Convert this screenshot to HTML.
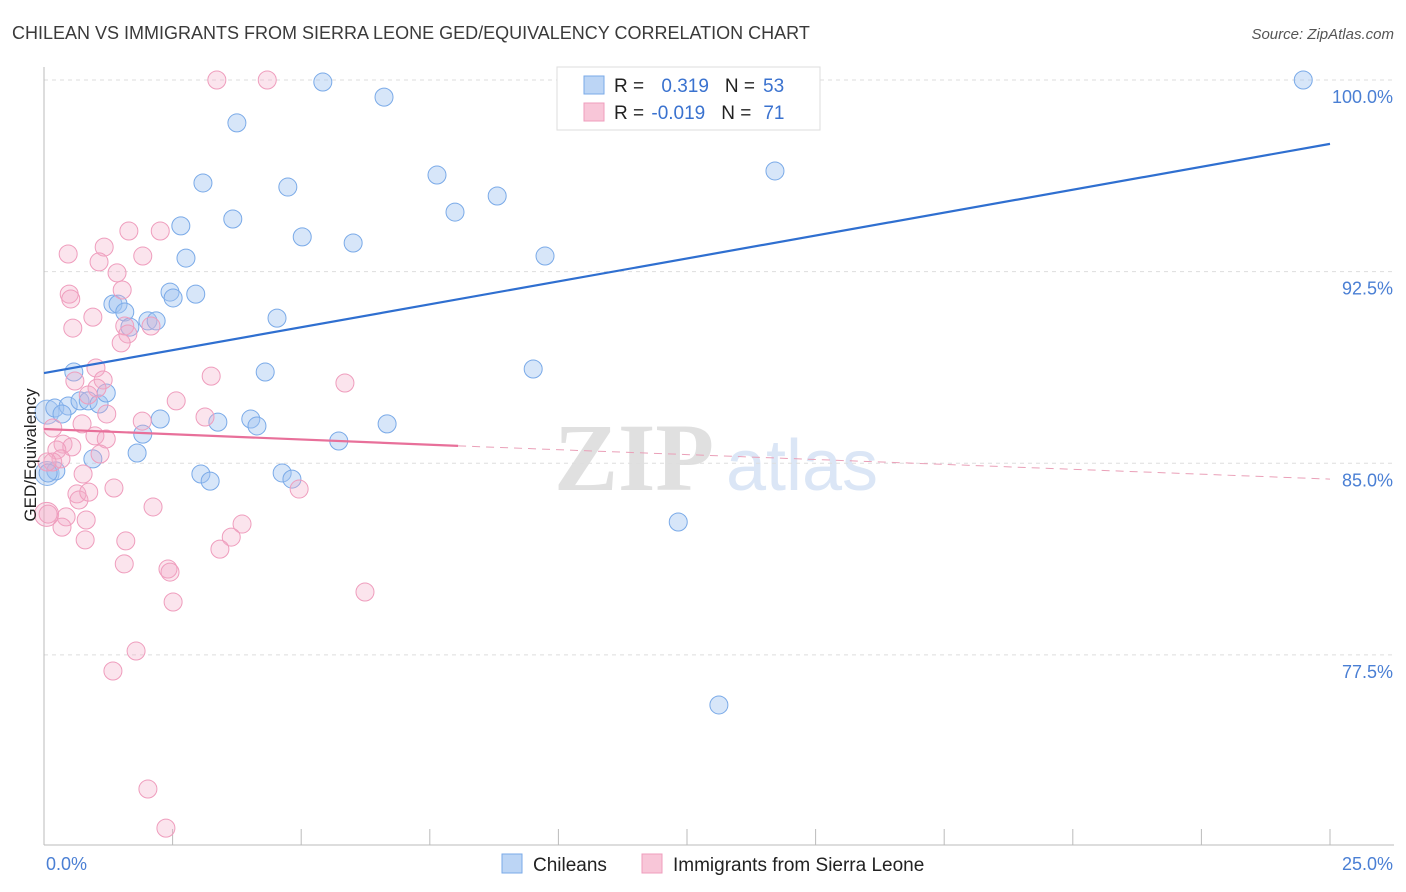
<!DOCTYPE html>
<html><head><meta charset="utf-8"><style>
body{margin:0;background:#fff;font-family:"Liberation Sans",sans-serif;}
svg{display:block}
</style></head><body>
<svg id="chart" width="1406" height="892" xmlns="http://www.w3.org/2000/svg">
<text x="12" y="39" font-size="18" fill="#3a3a3a">CHILEAN VS IMMIGRANTS FROM SIERRA LEONE GED/EQUIVALENCY CORRELATION CHART</text>
<text x="1394" y="39" font-size="15" fill="#555" font-style="italic" text-anchor="end">Source: ZipAtlas.com</text>
<g>
<text x="634" y="490" font-size="96" fill="#e0e0e0" font-family="Liberation Serif" text-anchor="middle" font-weight="bold">ZIP</text>
<text x="802" y="490" font-size="72" fill="#dbe6f6" text-anchor="middle">atlas</text>
</g>
<g id="grid"></g>
<g id="axes"></g>
<g id="points"></g>
<g id="lines"></g>
<text x="36" y="455" font-size="17" fill="#222" text-anchor="middle" transform="rotate(-90 36 455)">GED/Equivalency</text>
<text x="46" y="870" font-size="18" fill="#4a7fd4">0.0%</text>
<text x="1393" y="870" font-size="18" fill="#4a7fd4" text-anchor="end">25.0%</text>
<g>
<rect x="557" y="67" width="263" height="63" fill="#fff" stroke="#ddd"/>
<rect x="584" y="76" width="20" height="18" fill="#bcd5f5" stroke="#7aaae8"/>
<rect x="584" y="103" width="20" height="18" fill="#f8c6d8" stroke="#ef9dbd"/>
<text x="614" y="92" font-size="19" fill="#222">R = <tspan fill="#3a72cf" dx="12">0.319</tspan><tspan fill="#222" dx="16">N =</tspan><tspan fill="#3a72cf" dx="8">53</tspan></text>
<text x="614" y="119" font-size="19" fill="#222">R = <tspan fill="#3a72cf" dx="2">-0.019</tspan><tspan fill="#222" dx="16">N =</tspan><tspan fill="#3a72cf" dx="12">71</tspan></text>
</g>
<g>
<rect x="502" y="854" width="20" height="19" fill="#bcd5f5" stroke="#7aaae8"/>
<text x="533" y="871" font-size="19" fill="#222">Chileans</text>
<rect x="642" y="854" width="20" height="19" fill="#f8c6d8" stroke="#ef9dbd"/>
<text x="673" y="871" font-size="19" fill="#222">Immigrants from Sierra Leone</text>
</g>
</svg>
<script>
const yTicks=[100,92.5,85,77.5];
const yTickLabels=["100.0%","92.5%","85.0%","77.5%"];
const xTicks=[0,2.5,5,7.5,10,12.5,15,17.5,20,22.5,25];
const blueX=[5.42,6.61,3.75,14.07,24.48,3.09,4.74,7.64,8.81,7.99,14.21,3.67,2.66,5.02,6.01,9.74,2.76,2.45,2.95,2.51,1.34,1.44,1.57,2.02,2.18,1.67,4.53,4.30,9.51,0.58,0.21,0.47,0.70,0.86,1.07,1.21,0.35,3.38,4.02,4.14,6.67,2.26,1.92,5.73,1.81,0.95,3.05,3.23,4.63,4.82,0.23,0.08,12.33,13.12];
const blueY=[99.92,99.33,98.32,100,100,95.97,95.81,96.28,95.46,94.83,96.44,94.56,94.29,93.86,93.62,93.11,93.03,91.70,91.62,91.47,91.23,91.23,90.92,90.57,90.57,90.33,90.68,88.57,88.69,88.57,87.16,87.24,87.44,87.44,87.32,87.75,86.93,86.61,86.73,86.46,86.54,86.73,86.14,85.87,85.40,85.17,84.58,84.30,84.62,84.38,84.70,84.62,82.70,75.54];
const pinkX=[3.36,4.34,0.47,1.17,1.65,2.26,1.92,1.07,1.42,0.49,0.52,1.52,0.95,0.56,1.57,2.08,1.63,1.50,1.01,0.60,1.15,3.25,5.85,1.03,0.86,2.57,1.22,3.13,1.91,0.74,0.17,0.99,1.21,0.37,0.54,1.09,0.25,0.33,0.17,0.76,0.64,0.68,0.87,1.36,4.96,2.12,0.43,0.82,0.35,3.85,3.64,1.59,0.80,3.42,1.56,2.41,2.45,2.51,6.24,1.79,1.34,2.02,2.37,0.08,0.06];
const pinkY=[100,100,93.19,93.46,94.09,94.09,93.11,92.88,92.45,91.62,91.43,91.78,90.72,90.29,90.37,90.37,90.06,89.71,88.73,88.22,88.26,88.41,88.14,87.94,87.67,87.44,86.93,86.81,86.65,86.54,86.38,86.07,85.95,85.75,85.64,85.36,85.52,85.17,85.05,84.58,83.80,83.56,83.87,84.03,83.99,83.29,82.90,82.78,82.50,82.62,82.11,81.96,82.00,81.64,81.06,80.86,80.74,79.57,79.96,77.65,76.87,72.25,70.72,83.01,85.05];
const bigBlueX=[0.06,0.06];
const bigBlueY=[87.0,84.6];
const bigPinkX=[0.05];
const bigPinkY=[83.0];
const blueTrend=[[0,88.53],[25,97.5]];
const pinkTrend=[[0,86.34],[8.05,85.68],[25,84.38]];
const X=v=>44+v/25*1286;
const Y=v=>80+(100-v)*25.55;
const NS='http://www.w3.org/2000/svg';
function mk(tag,attrs,parent){const e=document.createElementNS(NS,tag);for(const k in attrs)e.setAttribute(k,attrs[k]);document.getElementById(parent).appendChild(e);return e;}
yTicks.forEach((t,i)=>{
 const l=mk('line',{x1:44,x2:1394,y1:Y(t),y2:Y(t),stroke:'#ddd','stroke-dasharray':'4,4'},'grid');
 
 
 const tx=mk('text',{x:1393,y:Y(t)+23,'font-size':18,fill:'#4a7fd4','text-anchor':'end'},'grid');
 tx.textContent=yTickLabels[i];
 
 
});
const ya=mk('line',{x1:44,x2:44,y1:67,y2:845,stroke:'#bbb'},'axes');


const xa=mk('line',{x1:44,x2:1394,y1:845,y2:845,stroke:'#bbb'},'axes');


xTicks.forEach(t=>{
 const l=mk('line',{x1:X(t),x2:X(t),y1:829,y2:845,stroke:'#bbb'},'axes');
 
 
});
bigBlueX.forEach((v,i)=>{
 const c=mk('circle',{cx:X(v),cy:Y(bigBlueY[i]),r:12,fill:'rgba(160,196,240,0.4)',stroke:'#8ab4ea','stroke-width':1},'points');
 
 
});
bigPinkX.forEach((v,i)=>{
 const c=mk('circle',{cx:X(v),cy:Y(bigPinkY[i]),r:12,fill:'rgba(244,170,200,0.35)',stroke:'#ef9dbd','stroke-width':1},'points');
 
 
});
blueX.forEach((v,i)=>{
 const c=mk('circle',{cx:X(v),cy:Y(blueY[i]),r:9,fill:'rgba(160,196,240,0.42)',stroke:'#7aaae8','stroke-width':1},'points');
 
 
});
pinkX.forEach((v,i)=>{
 const c=mk('circle',{cx:X(v),cy:Y(pinkY[i]),r:9,fill:'rgba(244,170,200,0.32)',stroke:'#ef9dbd','stroke-width':1},'points');
 
 
});
const bl=mk('line',{x1:X(blueTrend[0][0]),y1:Y(blueTrend[0][1]),x2:X(blueTrend[1][0]),y2:Y(blueTrend[1][1]),stroke:'#2f6fd0','stroke-width':2.2},'lines');


const pl=mk('line',{x1:X(pinkTrend[0][0]),y1:Y(pinkTrend[0][1]),x2:X(pinkTrend[1][0]),y2:Y(pinkTrend[1][1]),stroke:'#e8709a','stroke-width':2.2},'lines');


const pd=mk('line',{x1:X(pinkTrend[1][0]),y1:Y(pinkTrend[1][1]),x2:X(pinkTrend[2][0]),y2:Y(pinkTrend[2][1]),stroke:'#eaa0b8','stroke-width':1,'stroke-dasharray':'8,6'},'lines');


</script>
</body></html>
